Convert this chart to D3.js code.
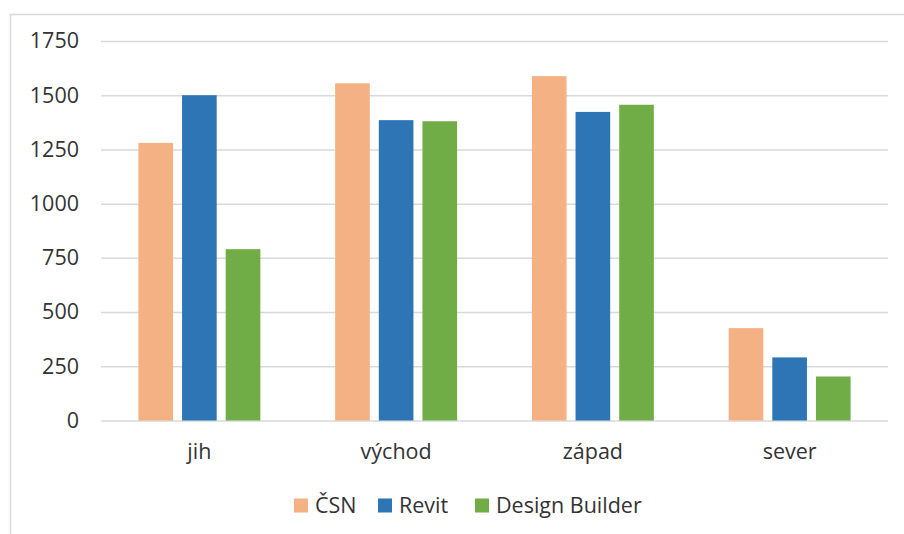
<!DOCTYPE html>
<html>
<head>
<meta charset="utf-8">
<script src="https://cdn.jsdelivr.net/npm/d3@7"></script>
<style>
  html, body { margin: 0; padding: 0; background: #fff; }
  svg { display: block; }
  text { font-family: "Open Sans", "Liberation Sans", sans-serif; fill: #333333; }
</style>
</head>
<body>
<svg id="chart" width="904" height="534"></svg>
<script>
// Orientation categories and values per calculation method
const categories = ["jih", "východ", "západ", "sever"];
const seriesNames = ["ČSN", "Revit", "Design Builder"];
const csnValues = [1280, 1555, 1588, 426];
const revitValues = [1500, 1385, 1423, 291];
const designBuilderValues = [790, 1380, 1456, 203];
const yTicks = [0, 250, 500, 750, 1000, 1250, 1500, 1750];
const colors = ["#F4B183", "#2E75B6", "#70AD47"];

const seriesValues = [csnValues, revitValues, designBuilderValues];

const svg = d3.select("#chart");
const plot = { left: 101, right: 888, top: 41, bottom: 420.5 };
const fontSize = "21.5px";

// chart area outline
svg.append("rect")
  .attr("x", 10.5).attr("y", 14.5)
  .attr("width", 1000).attr("height", 1000)
  .attr("fill", "none").attr("stroke", "#d9d9d9").attr("stroke-width", 1.5);

const x0 = d3.scaleBand().domain(categories).range([plot.left, plot.right]).padding(0);
const y = d3.scaleLinear().domain([0, 1750]).range([plot.bottom, plot.top]);

// bar layout inside each category: gap width 216%, overlap -26%
const gapWidth = 2.16, overlap = -0.26;
const barW = x0.bandwidth() / (3 + 2 * (-overlap) + gapWidth);
const barStep = barW * (1 - overlap);
const groupW = barW + 2 * barStep;

// gridlines and value labels
const yAxis = d3.axisLeft(y).tickValues(yTicks).tickFormat(d3.format("d"))
  .tickSize(-(plot.right - plot.left)).tickPadding(22);
const gy = svg.append("g").attr("transform", `translate(${plot.left},0)`).call(yAxis);
gy.select(".domain").remove();
gy.selectAll(".tick line").attr("stroke", "#d9d9d9").attr("stroke-width", 1.5);
gy.selectAll(".tick text")
  .style("font-family", '"Open Sans", "Liberation Sans", sans-serif')
  .style("font-size", fontSize).attr("fill", "#333333");

// bars
categories.forEach((cat, ci) => {
  const start = x0(cat) + (x0.bandwidth() - groupW) / 2;
  seriesValues.forEach((vals, si) => {
    svg.append("rect")
      .attr("x", start + si * barStep)
      .attr("y", y(vals[ci]))
      .attr("width", barW)
      .attr("height", y(0) - y(vals[ci]))
      .attr("fill", colors[si]);
  });
});

// category axis labels
const xAxis = d3.axisBottom(x0).tickSize(0).tickPadding(23);
const gx = svg.append("g").attr("transform", `translate(0,${plot.bottom})`).call(xAxis);
gx.select(".domain").remove();
gx.selectAll(".tick text")
  .style("font-family", '"Open Sans", "Liberation Sans", sans-serif')
  .style("font-size", fontSize).attr("fill", "#333333");

// legend
const legendX = [294, 378, 475];
const legend = svg.append("g");
seriesNames.forEach((name, i) => {
  legend.append("rect")
    .attr("x", legendX[i]).attr("y", 498.5)
    .attr("width", 14).attr("height", 14)
    .attr("fill", colors[i]);
  legend.append("text")
    .attr("x", legendX[i] + 21).attr("y", 505.5)
    .attr("dy", "0.35em")
    .style("font-size", fontSize)
    .text(name);
});
</script>
</body>
</html>
